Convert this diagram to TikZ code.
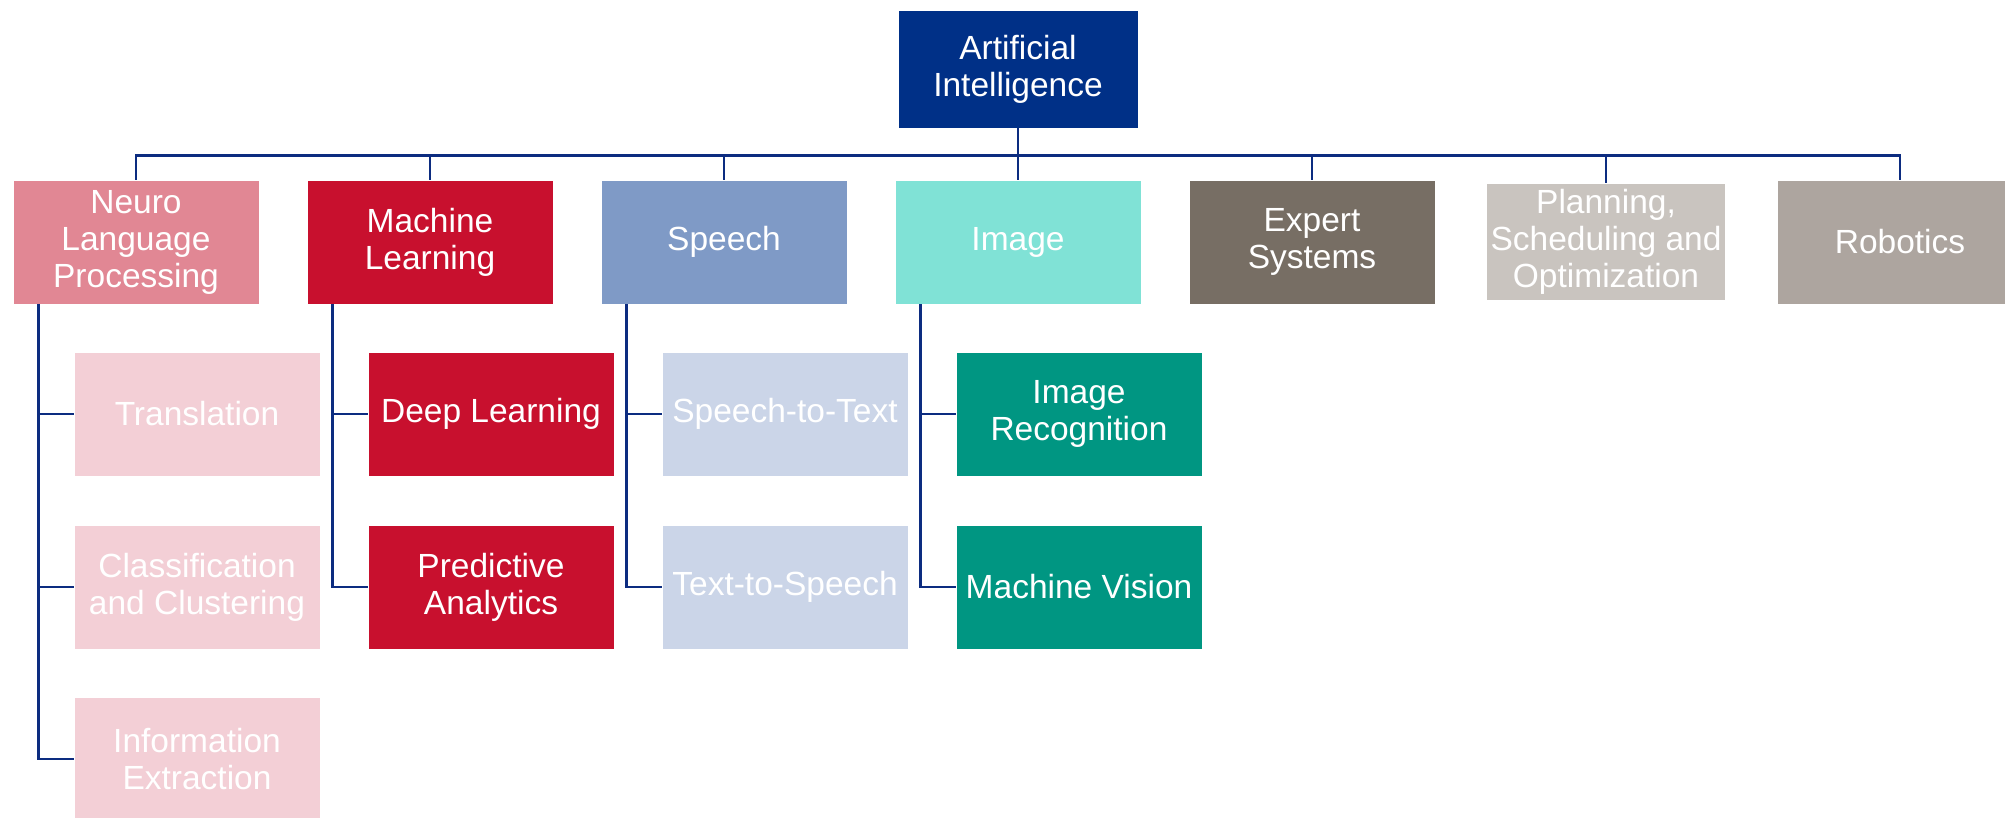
\documentclass[tikz,border=0pt]{standalone}
\usepackage{fontspec}
\setmainfont{Liberation Sans}

% palette
\definecolor{aiblue}{RGB}{0,48,135}
\definecolor{linec}{RGB}{12,44,128}
\definecolor{nlpc}{RGB}{225,135,148}
\definecolor{nlpsub}{RGB}{243,207,214}
\definecolor{mlred}{RGB}{200,16,46}
\definecolor{speechc}{RGB}{127,154,198}
\definecolor{speechsub}{RGB}{203,213,232}
\definecolor{imgc}{RGB}{128,226,214}
\definecolor{imgsub}{RGB}{0,150,130}
\definecolor{expertc}{RGB}{119,110,100}
\definecolor{planc}{RGB}{201,196,191}
\definecolor{robotc}{RGB}{173,165,159}

\begin{document}
\begin{tikzpicture}[x=1pt,y=-1pt,
  box/.style={rectangle, draw=white, line width=0.6pt,
    minimum width=246pt, minimum height=124pt, inner sep=0pt,
    text=white, align=center, font=\fontsize{33.5}{37}\selectfont},
  conn/.style={draw=linec, line width=2.6pt}]
\useasboundingbox (0,0) rectangle (2005,817);
\clip (0,0) rectangle (2005,817);

% root
\node[box, fill=aiblue, minimum width=240pt, minimum height=118pt] (ai) at (1018,69) {Artificial\\Intelligence};

% first level
\node[box, fill=nlpc]    (nlp)    at (136,242)  {Neuro\\Language\\Processing};
\node[box, fill=mlred]   (ml)     at (430,242)  {Machine\\Learning};
\node[box, fill=speechc] (speech) at (724,242)  {Speech};
\node[box, fill=imgc]    (img)    at (1018,242) {Image};
\node[box, fill=expertc] (expert) at (1312,242) {Expert\\Systems};
\node[box, fill=planc, minimum width=239pt, minimum height=117pt] (plan) at (1606,242) {Planning,\\Scheduling and\\Optimization};
\node[box, fill=robotc]  (robot)  at (1900,242) {Robotics};

% second level
\node[box, fill=nlpsub] (trans) at (197,414) {Translation};
\node[box, fill=nlpsub] (class) at (197,587) {Classification\\and Clustering};
\node[box, fill=nlpsub] (info)  at (197,759) {Information\\Extraction};

\node[box, fill=mlred] (deep) at (491,414) {Deep Learning};
\node[box, fill=mlred] (pred) at (491,587) {Predictive\\Analytics};

\node[box, fill=speechsub] (stt) at (785,414) {Speech-to-Text};
\node[box, fill=speechsub] (tts) at (785,587) {Text-to-Speech};

\node[box, fill=imgsub] (recog)  at (1079,414) {Image\\Recognition};
\node[box, fill=imgsub] (vision) at (1079,587) {Machine Vision};

% root to first level
\foreach \n in {nlp,ml,speech,img,expert,plan,robot}
  \draw[conn] (ai.south) -- ++(0,27) -| (\n.north);

% first level to second level
\foreach \p/\c in {nlp/trans,nlp/class,nlp/info,ml/deep,ml/pred,speech/stt,speech/tts,img/recog,img/vision}
  \draw[conn] ([xshift=26pt]\p.south west) |- (\c.west);
\end{tikzpicture}
\end{document}
